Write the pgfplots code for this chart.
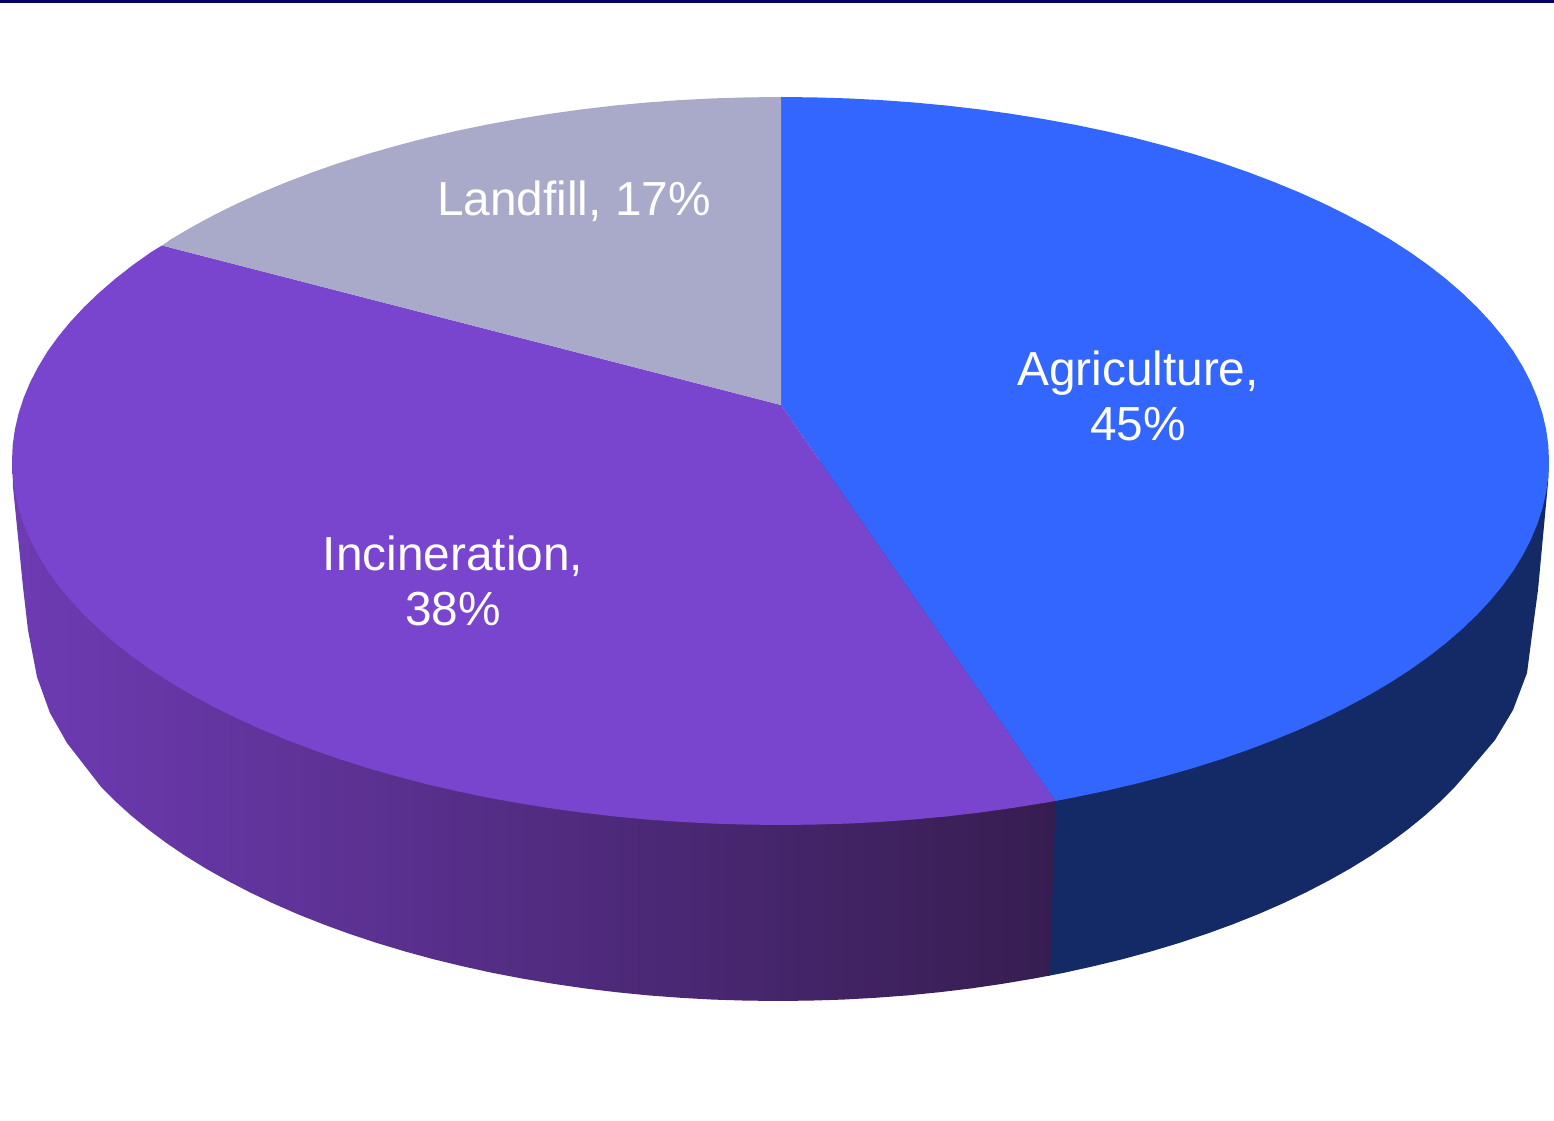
\documentclass[border=0pt]{standalone}
\usepackage{fontspec}
\setmainfont{Liberation Sans}
\usepackage{pgfplots}
\pgfplotsset{compat=1.18}
\definecolor{cblue}{HTML}{3366FF}
\definecolor{cpurple}{HTML}{7945CE}
\definecolor{cgrey}{HTML}{A9A9C9}
\definecolor{cdarkblue}{HTML}{132A66}
\definecolor{csideL}{HTML}{6E3BB3}
\definecolor{csideR}{HTML}{361D50}
\definecolor{cnavy}{HTML}{000066}
\begin{document}
\begin{tikzpicture}
\begin{axis}[
  scale only axis, width=777pt, height=560.5pt,
  xmin=0, xmax=1554, ymin=0, ymax=1121, y dir=reverse,
  hide axis, clip=true,
]
% full page extent
\addplot[draw=none, fill=white] coordinates {(0,0)(1554,0)(1554,1121)(0,1121)} -- cycle;
% top rule
\addplot[fill=cnavy, draw=none] coordinates {(0,0)(1554,0)(1554,3)(0,3)} -- cycle;
% side wall, blue
\addplot[fill=cdarkblue, draw=none] coordinates {
 (1045,801)(1045,976)(1050,975.5)(1063.9,972.8)(1093.7,966.2)(1123,959.1)(1151.5,951.3)(1179.4,942.9)(1206.5,933.9)(1232.8,924.3)(1258.2,914.2)(1282.7,903.5)(1306.2,892.3)(1328.7,880.6)(1350.2,868.5)(1370.6,855.9)(1389.9,842.8)(1408,829.3)(1424.9,815.5)(1440.6,801.3)(1455,786.8)(1467,773)(1495,740)(1513,710)(1527,673)(1533,627)(1538,590)(1548,483)(1549,461)(781,461)
} -- cycle;
% side wall, purple
\addplot[left color=csideL, right color=csideR, draw=none] coordinates {
 (12.5,461)(13,487)(23,587)(28,630)(37,677)(50,713)(67,743)(101,786.8)(115.4,801.3)(131.1,815.5)(148,829.3)(166.1,842.8)(185.4,855.9)(205.8,868.5)(227.3,880.6)(249.8,892.3)(273.3,903.5)(297.8,914.2)(323.2,924.3)(349.5,933.9)(376.6,942.9)(404.5,951.3)(433,959.1)(462.3,966.2)(492.1,972.8)(522.5,978.6)(553.4,983.8)(584.7,988.4)(616.3,992.2)(648.3,995.4)(680.5,997.8)(712.9,999.6)(745.4,1000.6)(778,1001)(810.6,1000.6)(843.1,999.6)(875.5,997.8)(907.7,995.4)(939.7,992.2)(971.3,988.4)(1002.6,983.8)(1033.5,978.6)(1050,975.5)(1055.5,801)(781,461)
} -- cycle;
% top, Agriculture 45
\addplot[fill=cblue, draw=none] coordinates {
 (781,405)(781,97)(814,97.4)(847.5,98.4)(880.8,100.1)(913.9,102.5)(946.8,105.6)(979.4,109.4)(1011.6,113.9)(1043.3,119)(1074.6,124.7)(1105.3,131.1)(1135.4,138.1)(1164.8,145.8)(1193.4,154)(1221.3,162.8)(1248.3,172.2)(1274.5,182.2)(1299.7,192.6)(1323.9,203.6)(1347.1,215.1)(1369.2,227)(1390.2,239.4)(1410,252.2)(1428.6,265.4)(1446,279)(1462.1,292.9)(1477,307.2)(1490.5,321.7)(1502.7,336.5)(1513.5,351.5)(1522.8,366.8)(1530.8,382.2)(1537.3,397.8)(1542.4,413.5)(1546.1,429.3)(1548.3,445.1)(1549,461)(1548.3,476.9)(1546.1,492.7)(1542.4,508.5)(1537.3,524.2)(1530.8,539.8)(1522.8,555.2)(1513.5,570.5)(1502.7,585.5)(1490.5,600.3)(1477,614.8)(1462.1,629.1)(1446,643)(1428.6,656.6)(1410,669.8)(1390.2,682.6)(1369.2,695)(1347.1,706.9)(1323.9,718.4)(1299.7,729.4)(1274.5,739.8)(1248.3,749.8)(1221.3,759.2)(1193.4,768)(1164.8,776.2)(1135.4,783.9)(1105.3,790.9)(1074.6,797.3)(1055.5,801)
} -- cycle;
% top, Incineration 38
\addplot[fill=cpurple, draw=none] coordinates {
 (781,405)(1055.5,801)(1043.3,803)(1011.6,808.1)(979.4,812.6)(946.8,816.4)(913.9,819.5)(880.8,821.9)(847.5,823.6)(814,824.6)(780.5,825)(747,824.6)(713.5,823.6)(680.2,821.9)(647.1,819.5)(614.2,816.4)(581.6,812.6)(549.4,808.1)(517.7,803)(486.4,797.3)(455.7,790.9)(425.6,783.9)(396.2,776.2)(367.6,768)(339.7,759.2)(312.7,749.8)(286.5,739.8)(261.3,729.4)(237.1,718.4)(213.9,706.9)(191.8,695)(170.8,682.6)(151,669.8)(132.4,656.6)(115,643)(98.9,629.1)(84,614.8)(70.5,600.3)(58.3,585.5)(47.5,570.5)(38.2,555.2)(30.2,539.8)(23.7,524.2)(18.6,508.5)(14.9,492.7)(12.7,476.9)(12,461)(12.7,445.1)(14.9,429.3)(18.6,413.5)(23.7,397.8)(30.2,382.2)(38.2,366.8)(47.5,351.5)(58.3,336.5)(70.5,321.7)(84,307.2)(98.9,292.9)(115,279)(132.4,265.4)(151,252.2)(162,245.5)
} -- cycle;
% top, Landfill 17
\addplot[fill=cgrey, draw=none] coordinates {
 (781,405)(162,245.5)(170.8,239.4)(191.8,227)(213.9,215.1)(237.1,203.6)(261.3,192.6)(286.5,182.2)(312.7,172.2)(339.7,162.8)(367.6,154)(396.2,145.8)(425.6,138.1)(455.7,131.1)(486.4,124.7)(517.7,119)(549.4,113.9)(581.6,109.4)(614.2,105.6)(647.1,102.5)(680.2,100.1)(713.5,98.4)(747,97.4)(781,97)
} -- cycle;
\node[white, anchor=center, inner sep=0pt, font=\fontsize{23.9pt}{27.5pt}\selectfont] at (axis cs:574,201) {Landfill, 17\%};
\node[white, anchor=center, align=center, inner sep=0pt, font=\fontsize{23.9pt}{27.5pt}\selectfont] at (axis cs:1138,396) {Agriculture,\\45\%};
\node[white, anchor=center, align=center, inner sep=0pt, font=\fontsize{23.9pt}{27.5pt}\selectfont] at (axis cs:453,581) {Incineration,\\38\%};
\end{axis}
\end{tikzpicture}
\end{document}
